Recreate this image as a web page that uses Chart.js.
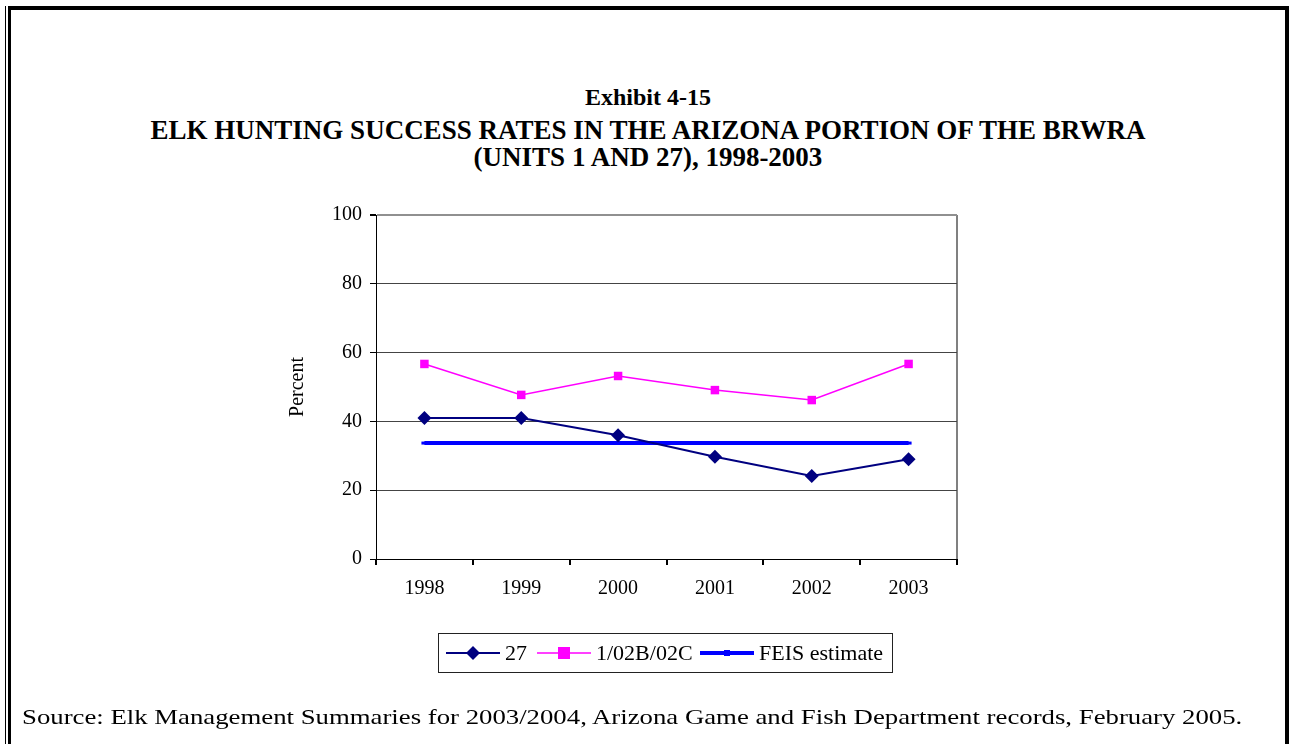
<!DOCTYPE html>
<html>
<head>
<meta charset="utf-8">
<script src="https://cdn.jsdelivr.net/npm/chart.js@4/dist/chart.umd.min.js"></script>
<style>
  body { margin: 0; width: 1290px; height: 744px; background: #fff; position: relative; overflow: hidden; font-family: "Liberation Serif", "Times New Roman", serif; color: #000; }
  .bar { position: absolute; background: #000; }
  .title { position: absolute; left: 8px; width: 1280px; text-align: center; font-weight: bold; font-size: 27px; line-height: 27px; white-space: nowrap; }
  #chartBox { position: absolute; left: 0; top: 0; width: 1290px; height: 744px; }
  #legend { position: absolute; left: 438px; top: 633px; width: 453px; height: 38px; border: 1px solid #222; font-size: 22px; }
  #legend .item { position: absolute; top: 0; height: 38px; display: flex; align-items: center; white-space: nowrap; }
  #legend svg { margin-right: 5px; }
  #source { position: absolute; left: 22px; top: 706px; font-size: 22px; line-height: 1; white-space: nowrap; transform-origin: 0 0; }
</style>
</head>
<body>
<!-- page frame -->
<div class="bar" style="left:5px;top:6px;width:1px;height:738px"></div>
<div class="bar" style="left:8px;top:6px;width:3px;height:738px"></div>
<div class="bar" style="left:8px;top:6px;width:1280px;height:4px"></div>
<div class="bar" style="left:1285px;top:6px;width:3px;height:738px"></div>
<div class="bar" style="left:1288px;top:6px;width:1px;height:738px"></div>

<div class="title" style="top:84px;font-size:24px">Exhibit 4-15</div>
<div class="title" style="top:117px">ELK HUNTING SUCCESS RATES IN THE ARIZONA PORTION OF THE BRWRA<br>(UNITS 1 AND 27), 1998-2003</div>

<div id="chartBox"><canvas id="elkChart"></canvas></div>

<div id="legend"></div>

<div id="source">Source: Elk Management Summaries for 2003/2004, Arizona Game and Fish Department records, February 2005.</div>

<script>
const years = ['1998', '1999', '2000', '2001', '2002', '2003'];
const unit27 = [41, 41, 36, 29.7, 24.1, 29];
const unit1 = [56.7, 47.7, 53.2, 49.1, 46.2, 56.7];
const feisEstimate = [33.7, 33.7, 33.7, 33.7, 33.7, 33.7];
const yTicks = [0, 20, 40, 60, 80, 100];

const seriesNames = ['27', '1/02B/02C', 'FEIS estimate'];
const seriesColors = ['#000080', '#FF00FF', '#0000FF'];

document.addEventListener("DOMContentLoaded", function() {
    const ctx = document.getElementById('elkChart').getContext('2d');
    const serif = '"Liberation Serif", "Times New Roman", serif';

    new Chart(ctx, {
        type: 'line',
        data: {
            labels: years,
            datasets: [
                {
                    label: seriesNames[0],
                    data: unit27,
                    borderColor: seriesColors[0],
                    backgroundColor: seriesColors[0],
                    borderWidth: 2,
                    pointStyle: 'rectRot',
                    pointRadius: 7,
                    pointBorderWidth: 0
                },
                {
                    label: seriesNames[1],
                    data: unit1,
                    borderColor: seriesColors[1],
                    backgroundColor: seriesColors[1],
                    borderWidth: 1.5,
                    pointStyle: 'rect',
                    pointRadius: 6,
                    pointBorderWidth: 0
                },
                {
                    label: seriesNames[2],
                    data: feisEstimate,
                    borderColor: seriesColors[2],
                    backgroundColor: seriesColors[2],
                    borderWidth: 4,
                    pointStyle: 'line',
                    pointRadius: 3,
                    pointBorderWidth: 3
                }
            ]
        },
        options: {
            responsive: true,
            maintainAspectRatio: false,
            animation: false,
            layout: { padding: { left: 286, right: 333, top: 215, bottom: 135 } },
            plugins: {
                legend: { display: false },
                tooltip: { enabled: false }
            },
            scales: {
                x: {
                    offset: true,
                    afterFit: function(scale) { scale.height = 50; },
                    grid: {
                        offset: true,
                        // only the closing line on the right edge of the plot is drawn
                        color: c => c.tick ? 'rgba(0,0,0,0)' : '#808080',
                        lineWidth: 2,
                        tickColor: '#000',
                        tickLength: 6
                    },
                    border: { color: '#000', width: 1 },
                    ticks: { color: '#000', font: { family: serif, size: 20 }, padding: 12 }
                },
                y: {
                    min: 0,
                    max: 100,
                    afterFit: function(scale) { scale.width = 90; },
                    afterBuildTicks: function(scale) { scale.ticks = yTicks.map(v => ({ value: v })); },
                    grid: {
                        color: c => c.tick && c.tick.value === 100 ? '#909090' : '#444',
                        lineWidth: c => c.tick && c.tick.value === 100 ? 2 : 1,
                        tickColor: '#000',
                        tickLength: 6
                    },
                    border: { color: '#000', width: 1 },
                    ticks: { color: '#000', font: { family: serif, size: 20 }, padding: 8 },
                    title: { display: true, text: 'Percent', color: '#000', font: { family: serif, size: 20 }, padding: 0 }
                }
            }
        }
    });

    // legend drawn like the original boxed legend
    const legend = document.getElementById('legend');
    const markers = [
        '<path d="M27 3 L34 10 L27 17 L20 10 Z" fill="' + seriesColors[0] + '"/>',
        '<rect x="21" y="4" width="12" height="12" fill="' + seriesColors[1] + '"/>',
        '<line x1="24" y1="10" x2="30" y2="10" stroke="' + seriesColors[2] + '" stroke-width="6"/>'
    ];
    const widths = [2, 1.5, 4];
    const itemLeft = [7, 98, 261];
    seriesNames.forEach(function(name, i) {
        const item = document.createElement('div');
        item.className = 'item';
        item.style.left = itemLeft[i] + 'px';
        item.innerHTML = '<svg width="54" height="20"><line x1="0" y1="10" x2="54" y2="10" stroke="' +
            seriesColors[i] + '" stroke-width="' + widths[i] + '"/>' + markers[i] + '</svg><span>' + name + '</span>';
        legend.appendChild(item);
    });

    // the source line is stretched across the frame like in the original
    const src = document.getElementById('source');
    src.style.transform = 'scaleX(' + (1220 / src.offsetWidth) + ')';
});
</script>
</body>
</html>
